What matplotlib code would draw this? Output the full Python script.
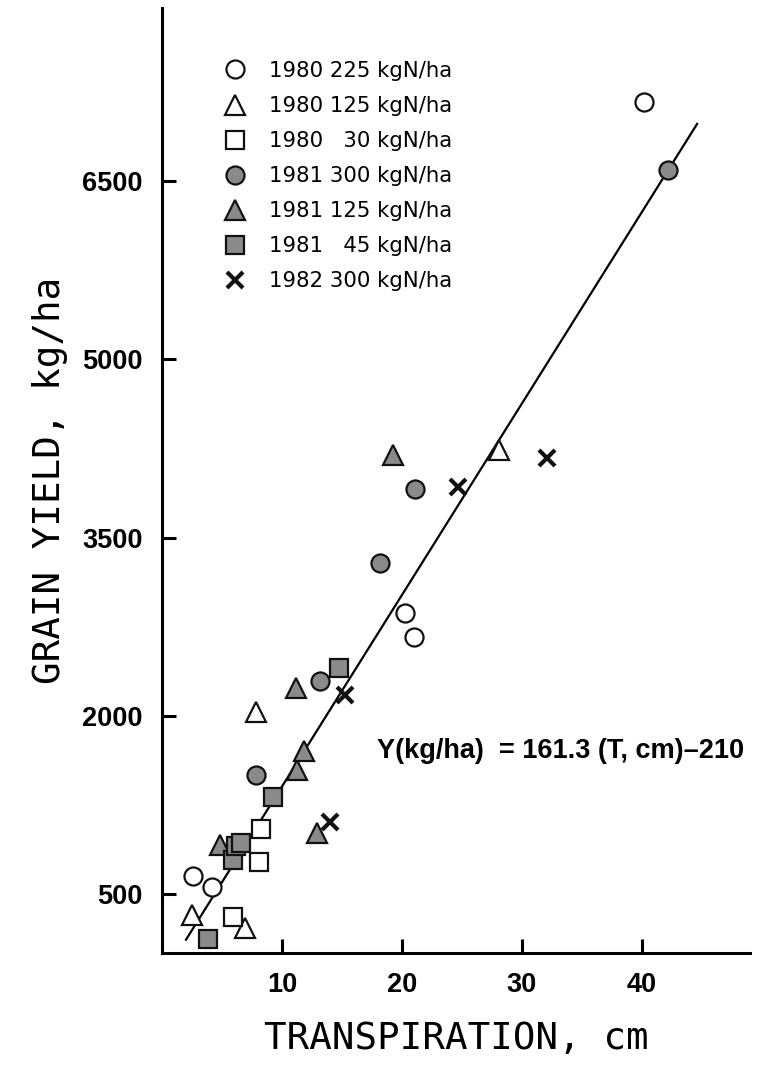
import matplotlib
matplotlib.use("Agg")
import matplotlib.pyplot as plt
import numpy as np

# ---- data (T = transpiration cm, Y = grain yield kg/ha) ----
o80_225_T = [2.6, 4.2, 20.25, 21.0, 40.2]
o80_225_Y = [645, 555, 2865, 2663, 7171]

t80_125_T = [2.5, 6.9, 7.8, 28.1]
t80_125_Y = [320, 210, 2031, 4239]

s80_30_T = [5.9, 8.1, 8.25]
s80_30_Y = [300, 767, 1045]

o81_300_T = [7.8, 13.2, 18.2, 21.1, 42.2]
o81_300_Y = [1500, 2292, 3286, 3910, 6598]

t81_125_T = [4.8, 11.2, 11.25, 11.8, 12.9, 19.25]
t81_125_Y = [910, 2233, 1542, 1702, 1011, 4196]

s81_45_T = [3.8, 5.9, 6.2, 6.6, 9.25, 14.75]
s81_45_Y = [120, 780, 900, 930, 1315, 2402]

x82_300_T = [14.0, 15.25, 24.7, 32.1]
x82_300_Y = [1104, 2174, 3927, 4171]

fit_slope = 161.3
fit_icpt = -210
fit_T = np.array([2.0, 44.6])

labels = ["1980 225 kgN/ha", "1980 125 kgN/ha", "1980   30 kgN/ha",
          "1981 300 kgN/ha", "1981 125 kgN/ha", "1981   45 kgN/ha",
          "1982 300 kgN/ha"]
xticks = [10, 20, 30, 40]
yticks = [500, 2000, 3500, 5000, 6500]

GRAY = "#8a8a8a"
EDGE = "#111111"

fig = plt.figure(figsize=(7.66, 10.67), dpi=100)
ax = fig.add_axes([0.2115, 0.1068, 0.7675, 0.8857])

ax.plot(fit_T, fit_slope * fit_T + fit_icpt, color="black", lw=1.6, zorder=1)

common = dict(linestyle="none", markeredgecolor=EDGE, markeredgewidth=1.6, zorder=3)
ax.plot(o80_225_T, o80_225_Y, marker="o", ms=13, markerfacecolor="white", label=labels[0], **common)
ax.plot(t80_125_T, t80_125_Y, marker="^", ms=15, markerfacecolor="white", label=labels[1], **common)
ax.plot(s80_30_T, s80_30_Y, marker="s", ms=12.5, markerfacecolor="white", label=labels[2], **common)
ax.plot(o81_300_T, o81_300_Y, marker="o", ms=13, markerfacecolor=GRAY, label=labels[3], **common)
ax.plot(t81_125_T, t81_125_Y, marker="^", ms=15, markerfacecolor=GRAY, label=labels[4], **common)
ax.plot(s81_45_T, s81_45_Y, marker="s", ms=12.5, markerfacecolor=GRAY, label=labels[5], **common)
ax.plot(x82_300_T, x82_300_Y, marker="x", ms=12, linestyle="none", color=EDGE,
        markeredgewidth=3, label=labels[6], zorder=3)

ax.set_xlim(0, 49)
ax.set_ylim(0, 7960)
ax.set_xticks(xticks)
ax.set_yticks(yticks)
for s in ["top", "right"]:
    ax.spines[s].set_visible(False)
for s in ["left", "bottom"]:
    ax.spines[s].set_linewidth(2.2)

ax.tick_params(axis="both", direction="in", length=10, width=2.2, pad=14,
               labelsize=19.5)
for lab in ax.get_xticklabels() + ax.get_yticklabels():
    lab.set_fontfamily("Liberation Sans")
    lab.set_fontweight("bold")

ax.set_xlabel("TRANSPIRATION, cm", fontfamily="DejaVu Sans Mono", fontsize=27, labelpad=16)
ax.set_ylabel("GRAIN YIELD, kg/ha", fontfamily="DejaVu Sans Mono", fontsize=27, labelpad=10)

ax.text(17.9, 1700, "Y(kg/ha)  = 161.3 (T, cm)\u2013210", fontfamily="Liberation Sans",
        fontweight="bold", fontsize=19.5, va="center", ha="left")

leg = ax.legend(loc="upper left", bbox_to_anchor=(0.1065, 0.944), frameon=False,
                prop={"family": "DejaVu Sans", "size": 15.3},
                handlelength=1.0, handletextpad=1.1, labelspacing=0.71,
                borderpad=0, borderaxespad=0, numpoints=1)

fig.savefig("out.png", dpi=100)
